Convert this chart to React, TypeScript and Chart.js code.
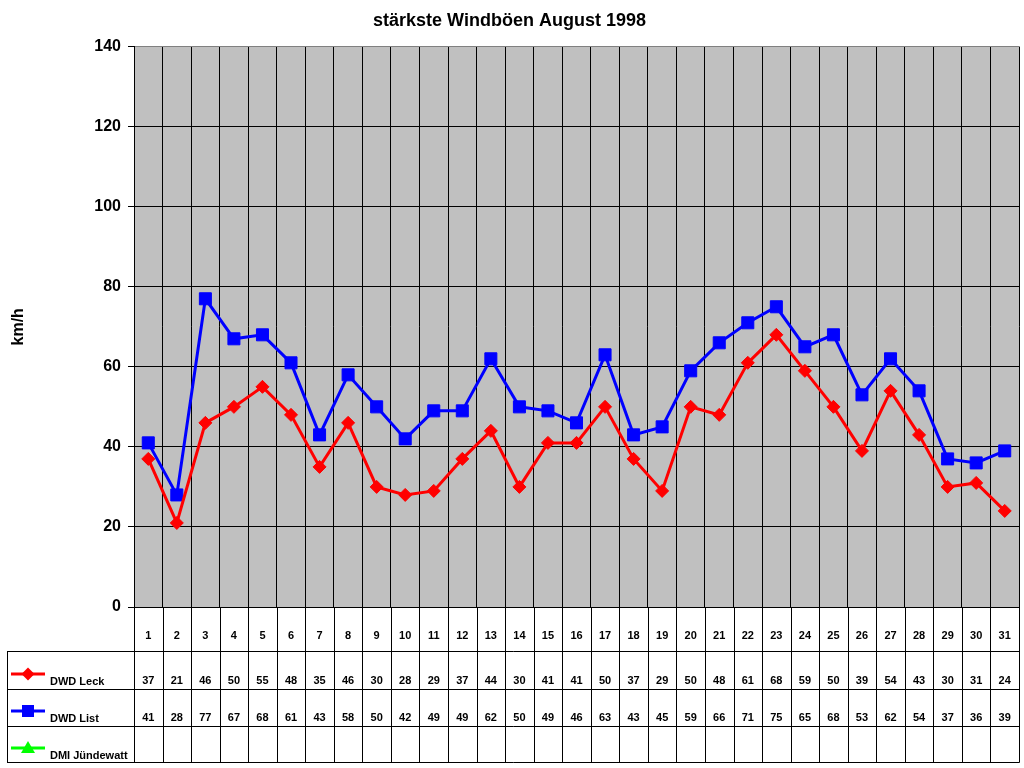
import React, { useEffect, useRef } from 'react';
import { Chart, registerables } from 'chart.js';

Chart.register(...registerables);

const chartTitle = 'stärkste Windböen August 1998';
const yAxisTitle = 'km/h';
const days = ['1','2','3','4','5','6','7','8','9','10','11','12','13','14','15','16','17','18','19','20','21','22','23','24','25','26','27','28','29','30','31'];
const dwdLeck = [37,21,46,50,55,48,35,46,30,28,29,37,44,30,41,41,50,37,29,50,48,61,68,59,50,39,54,43,30,31,24];
const dwdList = [41,28,77,67,68,61,43,58,50,42,49,49,62,50,49,46,63,43,45,59,66,71,75,65,68,53,62,54,37,36,39];
const dmiJundewatt: (number | null)[] = [];
const seriesNames = ['DWD Leck', 'DWD List', 'DMI Jündewatt'];
const seriesColors = ['#FF0000', '#0000FF', '#00FF00'];
const yMin = 0;
const yMax = 140;
const yStep = 20;

const FONT = 'Arial, "Liberation Sans", sans-serif';

const bgPlugin = {
  id: 'plotBg',
  beforeDraw(chart: any) {
    const { ctx, chartArea } = chart;
    ctx.save();
    ctx.fillStyle = '#C0C0C0';
    ctx.fillRect(chartArea.left, chartArea.top, chartArea.right - chartArea.left, chartArea.bottom - chartArea.top);
    ctx.restore();
  },
};

function drawMarker(ctx: CanvasRenderingContext2D, style: string, x: number, y: number, color: string) {
  ctx.fillStyle = color;
  ctx.beginPath();
  if (style === 'rectRot') {
    ctx.moveTo(x, y - 6.5);
    ctx.lineTo(x + 6.5, y);
    ctx.lineTo(x, y + 6.5);
    ctx.lineTo(x - 6.5, y);
    ctx.closePath();
  } else if (style === 'rect') {
    ctx.rect(x - 6, y - 6, 12, 12);
  } else {
    ctx.moveTo(x, y - 7);
    ctx.lineTo(x + 7, y + 5);
    ctx.lineTo(x - 7, y + 5);
    ctx.closePath();
  }
  ctx.fill();
}

const tablePlugin = {
  id: 'dataTable',
  afterDraw(chart: any) {
    const { ctx, chartArea, scales } = chart;
    const xs = scales.x;
    const left = chartArea.left;
    const right = chartArea.right;
    const top = chartArea.bottom;
    const n = days.length;
    const colW = (right - left) / n;
    const rowLines = [651.5, 689.5, 726.5, 762.5];
    ctx.save();
    ctx.strokeStyle = '#000';
    ctx.lineWidth = 1;
    const line = (x1: number, y1: number, x2: number, y2: number) => {
      ctx.beginPath();
      ctx.moveTo(x1, y1);
      ctx.lineTo(x2, y2);
      ctx.stroke();
    };
    rowLines.forEach((y) => line(7, y, Math.round(right) + 0.5, y));
    line(7.5, rowLines[0], 7.5, rowLines[3]);
    for (let i = 0; i <= n; i++) {
      const xx = Math.round(left + i * colW) + 0.5;
      line(xx, top, xx, rowLines[3]);
    }
    ctx.fillStyle = '#000';
    ctx.font = 'bold 11px ' + FONT;
    ctx.textAlign = 'center';
    ctx.textBaseline = 'middle';
    const rows = [dwdLeck, dwdList, dmiJundewatt];
    const rowY = [681, 718, 755.5];
    days.forEach((d, i) => {
      const cx = xs.getPixelForValue(i);
      ctx.fillText(d, cx, 636);
      rows.forEach((r, k) => {
        const v = r[i];
        if (v !== undefined && v !== null) ctx.fillText(String(Math.round(v)), cx, rowY[k]);
      });
    });
    const styles = ['rectRot', 'rect', 'triangle'];
    const keyY = [674, 711, 748];
    seriesNames.forEach((name, k) => {
      ctx.strokeStyle = seriesColors[k];
      ctx.lineWidth = 3;
      line(11, keyY[k], 45, keyY[k]);
      drawMarker(ctx, styles[k], 28, keyY[k], seriesColors[k]);
      ctx.fillStyle = '#000';
      ctx.textAlign = 'left';
      ctx.fillText(name, 50, rowY[k] + 0.5);
    });
    ctx.restore();
  },
};

export default function App() {
  const ref = useRef<HTMLCanvasElement>(null);
  useEffect(() => {
    if (!ref.current) return;
    const chart = new Chart(ref.current, {
      type: 'line',
      data: {
        labels: days,
        datasets: [
          {
            label: seriesNames[0],
            data: dwdLeck,
            borderColor: seriesColors[0],
            backgroundColor: seriesColors[0],
            borderWidth: 3,
            pointStyle: 'rectRot',
            pointRadius: 6.5,
            pointBorderWidth: 1,
            tension: 0,
          },
          {
            label: seriesNames[1],
            data: dwdList,
            borderColor: seriesColors[1],
            backgroundColor: seriesColors[1],
            borderWidth: 3,
            pointStyle: 'rect',
            pointRadius: 8.5,
            pointBorderWidth: 1,
            tension: 0,
          },
          {
            label: seriesNames[2],
            data: dmiJundewatt,
            borderColor: seriesColors[2],
            backgroundColor: seriesColors[2],
            borderWidth: 3,
            pointStyle: 'triangle',
            pointRadius: 7,
            tension: 0,
          },
        ],
      },
      options: {
        responsive: false,
        animation: false,
        devicePixelRatio: 1,
        layout: { autoPadding: false, padding: { left: 0, top: 0, right: 5, bottom: 161 } },
        plugins: {
          legend: { display: false },
          tooltip: { enabled: false },
          title: {
            display: true,
            text: chartTitle,
            color: '#000',
            font: { family: FONT, size: 18, weight: 'bold' },
            padding: { top: 10, bottom: 15 },
          },
        },
        scales: {
          x: {
            type: 'category',
            offset: true,
            grid: { offset: true, color: '#000', lineWidth: 1, drawTicks: false },
            border: { display: true, color: '#000', width: 1 },
            ticks: { display: false },
            afterFit: (s: any) => { s.height = 0; },
          },
          y: {
            min: yMin,
            max: yMax,
            ticks: {
              stepSize: yStep,
              color: '#000',
              padding: 7,
              font: { family: FONT, size: 16, weight: 'bold' },
            },
            grid: {
              color: (c: any) => (c.tick && c.tick.value === yMax ? '#808080' : '#000'),
              tickColor: '#000',
              tickLength: 6,
              lineWidth: 1,
            },
            border: { display: true, color: '#000', width: 1 },
            title: {
              display: true,
              text: yAxisTitle,
              color: '#000',
              font: { family: FONT, size: 16, weight: 'bold' },
              padding: { top: 9, bottom: 0 },
            },
            afterFit: (s: any) => { s.width = 134; },
          },
        },
      },
      plugins: [bgPlugin, tablePlugin],
    });
    return () => chart.destroy();
  }, []);
  return (
    <div style={{ position: 'absolute', left: 0, top: 0, width: 1024, height: 768, background: '#fff' }}>
      <canvas ref={ref} width={1024} height={768} />
    </div>
  );
}
